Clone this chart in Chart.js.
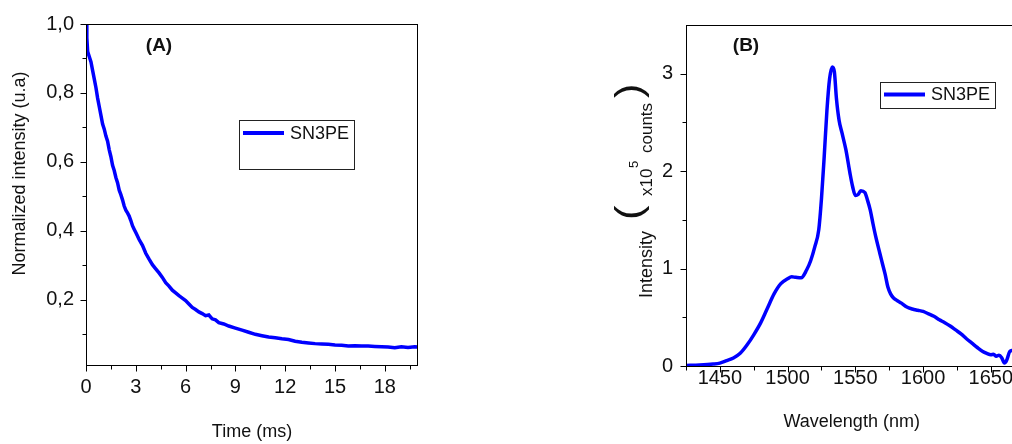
<!DOCTYPE html>
<html>
<head>
<meta charset="utf-8">
<script src="https://cdn.jsdelivr.net/npm/chart.js@4.4.0/dist/chart.umd.min.js"></script>
<style>
  html, body { margin: 0; padding: 0; background: #fff; width: 1012px; height: 444px; overflow: hidden; }
  #chartA { position: absolute; left: 0; top: 0; }
  #chartB { position: absolute; left: 600px; top: 0; }
</style>
</head>
<body>
<canvas id="chartA" width="440" height="444"></canvas>
<canvas id="chartB" width="500" height="444"></canvas>
<script>
// (A) luminescence decay
const timeMs = [0, 0.05, 0.1, 0.2, 0.3, 0.4, 0.5, 0.6, 0.7, 0.8, 0.9, 1.0, 1.1, 1.2, 1.3, 1.4, 1.5,
  1.6, 1.7, 1.8, 1.9, 2.0, 2.1, 2.2, 2.3, 2.4, 2.5, 2.6, 2.7, 2.8, 2.9, 3.0, 3.2, 3.4, 3.6, 3.8,
  4.0, 4.2, 4.4, 4.6, 4.8, 5.0, 5.2, 5.4, 5.6, 5.8, 6.0, 6.2, 6.4, 6.6, 6.8, 7.0, 7.2, 7.4, 7.6,
  7.8, 8.0, 8.3, 8.6, 9.0, 9.4, 9.8, 10.2, 10.6, 11.0, 11.4, 11.8, 12.2, 12.6, 13.0, 13.4, 13.8,
  14.2, 14.6, 15.0, 15.4, 15.8, 16.2, 16.6, 17.0, 17.4, 17.8, 18.2, 18.6, 19.0, 19.4, 19.8, 20.0];
const decayIntensity = [1.0, 0.96, 0.92, 0.905, 0.89, 0.865, 0.84, 0.815, 0.785, 0.76, 0.735, 0.71,
  0.695, 0.675, 0.66, 0.635, 0.615, 0.59, 0.575, 0.555, 0.54, 0.518, 0.505, 0.49, 0.472, 0.46,
  0.452, 0.443, 0.43, 0.415, 0.405, 0.395, 0.375, 0.358, 0.335, 0.318, 0.302, 0.29, 0.278, 0.265,
  0.25, 0.24, 0.228, 0.22, 0.212, 0.205, 0.198, 0.188, 0.178, 0.172, 0.165, 0.16, 0.154, 0.156,
  0.145, 0.142, 0.134, 0.13, 0.124, 0.118, 0.112, 0.106, 0.1, 0.096, 0.092, 0.09, 0.087, 0.085,
  0.08, 0.077, 0.075, 0.073, 0.072, 0.071, 0.069, 0.068, 0.066, 0.067, 0.066, 0.066, 0.065, 0.064,
  0.063, 0.061, 0.064, 0.062, 0.064, 0.063];

// (B) emission spectrum, intensity in 10^5 counts
const wavelengthNm = [1425, 1435, 1445, 1450, 1455, 1460, 1465, 1470, 1475, 1480, 1485, 1490, 1495,
  1500, 1503, 1506, 1510, 1514, 1517, 1520, 1523, 1525, 1527, 1529, 1531, 1533, 1534.5, 1536, 1538,
  1540, 1543, 1546, 1548, 1550, 1552, 1554, 1557, 1559, 1561, 1563, 1565, 1568, 1570, 1572, 1574,
  1576, 1578, 1581, 1584, 1588, 1592, 1596, 1600, 1604, 1608, 1612, 1616, 1620, 1624, 1628, 1632,
  1636, 1640, 1644, 1647, 1650, 1652, 1654, 1656, 1658, 1660, 1661, 1662, 1664, 1666];
const emissionCounts = [0.005, 0.01, 0.02, 0.03, 0.055, 0.082, 0.13, 0.215, 0.32, 0.44, 0.59, 0.74,
  0.845, 0.895, 0.915, 0.91, 0.905, 0.985, 1.08, 1.22, 1.4, 1.72, 2.15, 2.62, 2.95, 3.07, 3.02,
  2.75, 2.52, 2.4, 2.22, 1.98, 1.84, 1.75, 1.76, 1.8, 1.78, 1.7, 1.6, 1.46, 1.33, 1.16, 1.05, 0.94,
  0.81, 0.74, 0.7, 0.67, 0.645, 0.605, 0.585, 0.572, 0.56, 0.535, 0.51, 0.475, 0.445, 0.41, 0.37,
  0.33, 0.28, 0.235, 0.19, 0.15, 0.13, 0.115, 0.12, 0.1, 0.11, 0.085, 0.03, 0.04, 0.07, 0.15, 0.16];

const seriesLabel = 'SN3PE';
const FONT = "'Liberation Sans', Arial, Helvetica, sans-serif";

Chart.defaults.font.family = FONT;
Chart.defaults.color = '#111';

function toPoints(xs, ys) {
  return xs.map((x, i) => ({ x: x, y: ys[i] }));
}

// values of minor ticks between the major ones
function minorValues(scale, step, major, inclusive) {
  const out = [];
  const k0 = Math.ceil(scale.min / step - 1e-9), k1 = Math.floor(scale.max / step + 1e-9);
  for (let k = k0; k <= k1; k++) {
    const v = k * step;
    const r = v / major;
    if (Math.abs(r - Math.round(r)) < 1e-6) continue;
    if (!inclusive && (Math.abs(v - scale.min) < 1e-9 || Math.abs(v - scale.max) < 1e-9)) continue;
    out.push(v);
  }
  return out;
}

// frame, outside tick marks, floating legend and free text
const panelDecor = {
  id: 'panelDecor',
  afterDraw(chart, args, o) {
    const ctx = chart.ctx, a = chart.chartArea;
    const xs = chart.scales.x, ys = chart.scales.y;
    ctx.save();
    ctx.strokeStyle = '#000';
    ctx.lineWidth = 1;
    ctx.strokeRect(a.left + 0.5, a.top + 0.5, a.right - a.left - 1, a.bottom - a.top);

    const bx = a.bottom + 0.5, lx = a.left + 0.5;
    ctx.beginPath();
    const tickX = (v, len) => {
      const p = Math.round(xs.getPixelForValue(v)) + 0.5;
      ctx.moveTo(p, bx); ctx.lineTo(p, bx + len);
    };
    const tickY = (v, len) => {
      const p = Math.round(ys.getPixelForValue(v)) + 0.5;
      ctx.moveTo(lx, p); ctx.lineTo(lx - len, p);
    };
    xs.ticks.forEach(t => tickX(t.value, 6));
    ys.ticks.forEach(t => tickY(t.value, 6));
    minorValues(xs, o.xMinor, o.xMajor, true).forEach(v => tickX(v, 4));
    minorValues(ys, o.yMinor, o.yMajor, false).forEach(v => tickY(v, 4));
    ctx.stroke();

    // legend
    const ds = chart.data.datasets[0], L = o.legend;
    ctx.strokeStyle = '#222';
    ctx.lineWidth = 1;
    ctx.strokeRect(L.x + 0.5, L.y + 0.5, L.w, L.h);
    ctx.strokeStyle = ds.borderColor;
    ctx.lineWidth = 4;
    ctx.beginPath();
    ctx.moveTo(L.x + 4, L.lineY);
    ctx.lineTo(L.x + 45, L.lineY);
    ctx.stroke();
    ctx.fillStyle = '#111';
    ctx.font = '18px ' + FONT;
    ctx.textAlign = 'left';
    ctx.textBaseline = 'middle';
    ctx.fillText(ds.label, L.x + 51, L.lineY + 1);

    o.texts.forEach(s => {
      ctx.save();
      ctx.translate(s.x, s.y);
      if (s.rot) ctx.rotate(-Math.PI / 2);
      if (s.sx) ctx.scale(s.sx, 1);
      ctx.font = (s.bold ? 'bold ' : '') + s.size + 'px ' + FONT;
      ctx.textAlign = s.align || 'left';
      ctx.textBaseline = s.base || 'alphabetic';
      ctx.fillStyle = '#111';
      ctx.fillText(s.t, 0, 0);
      ctx.restore();
    });
    ctx.restore();
  }
};

function axisCommon(extra) {
  return Object.assign({
    type: 'linear',
    grid: { display: false, drawTicks: false },
    border: { display: false }
  }, extra);
}

new Chart(document.getElementById('chartA'), {
  type: 'line',
  data: {
    datasets: [{
      label: seriesLabel,
      data: toPoints(timeMs, decayIntensity),
      borderColor: '#0000ff',
      borderWidth: 3.5,
      pointRadius: 0,
      tension: 0
    }]
  },
  options: {
    responsive: false,
    animation: false,
    layout: { padding: { top: 15, right: 22, left: 0, bottom: 0 } },
    plugins: {
      legend: { display: false },
      tooltip: { enabled: false },
      panelDecor: {
        xMinor: 1.5, xMajor: 3, yMinor: 0.1, yMajor: 0.2,
        legend: { x: 239, y: 120, w: 115, h: 49, lineY: 133 },
        texts: [
          { t: 'Normalized intensity (u.a)', x: 25, y: 173.5, size: 18, rot: true, align: 'center' },
          { t: 'Time (ms)', x: 252, y: 437, size: 18, align: 'center' },
          { t: '(A)', x: 159, y: 46, size: 19, bold: true, align: 'center', base: 'middle' }
        ]
      }
    },
    scales: {
      x: axisCommon({
        min: 0, max: 20,
        afterFit: s => { s.height = 79; },
        ticks: { stepSize: 3, includeBounds: false, padding: 10, font: { size: 20 }, maxRotation: 0, autoSkip: false }
      }),
      y: axisCommon({
        min: 0.011, max: 1.0,
        afterFit: s => { s.width = 86; },
        ticks: { stepSize: 0.2, includeBounds: false, padding: 12, font: { size: 20 },
          callback: v => v.toFixed(1).replace('.', ',') }
      })
    }
  },
  plugins: [panelDecor]
});

new Chart(document.getElementById('chartB'), {
  type: 'line',
  data: {
    datasets: [{
      label: seriesLabel,
      data: toPoints(wavelengthNm, emissionCounts),
      borderColor: '#0000ff',
      borderWidth: 3.5,
      pointRadius: 0,
      cubicInterpolationMode: 'monotone'
    }]
  },
  options: {
    responsive: false,
    animation: false,
    layout: { padding: { top: 15, right: 41.4, left: 0, bottom: 0 } },
    plugins: {
      legend: { display: false },
      tooltip: { enabled: false },
      panelDecor: {
        xMinor: 25, xMajor: 50, yMinor: 0.5, yMajor: 1,
        legend: { x: 280, y: 82, w: 115, h: 26, lineY: 94.5 },
        texts: [
          { t: 'Intensity', x: 52, y: 298, size: 18, rot: true },
          { t: '(', x: 41, y: 220, size: 36, rot: true, sx: 1.2 },
          { t: 'x10', x: 52, y: 196, size: 17, rot: true },
          { t: '5', x: 38, y: 168, size: 13, rot: true },
          { t: 'counts', x: 52, y: 153, size: 17, rot: true },
          { t: ')', x: 41, y: 98, size: 36, rot: true, sx: 1.2 },
          { t: 'Wavelength (nm)', x: 251.7, y: 427, size: 18, align: 'center' },
          { t: '(B)', x: 146, y: 46, size: 19, bold: true, align: 'center', base: 'middle' }
        ]
      }
    },
    scales: {
      x: axisCommon({
        min: 1425, max: 1700,
        afterFit: s => { s.height = 78; },
        ticks: { stepSize: 50, includeBounds: false, padding: 0, font: { size: 20 }, maxRotation: 0, autoSkip: false,
          callback: v => String(v) }
      }),
      y: axisCommon({
        min: 0, max: 3.5,
        afterFit: s => { s.width = 86; },
        ticks: { stepSize: 1, includeBounds: false, padding: 13, font: { size: 20 } }
      })
    }
  },
  plugins: [panelDecor]
});
</script>
</body>
</html>
